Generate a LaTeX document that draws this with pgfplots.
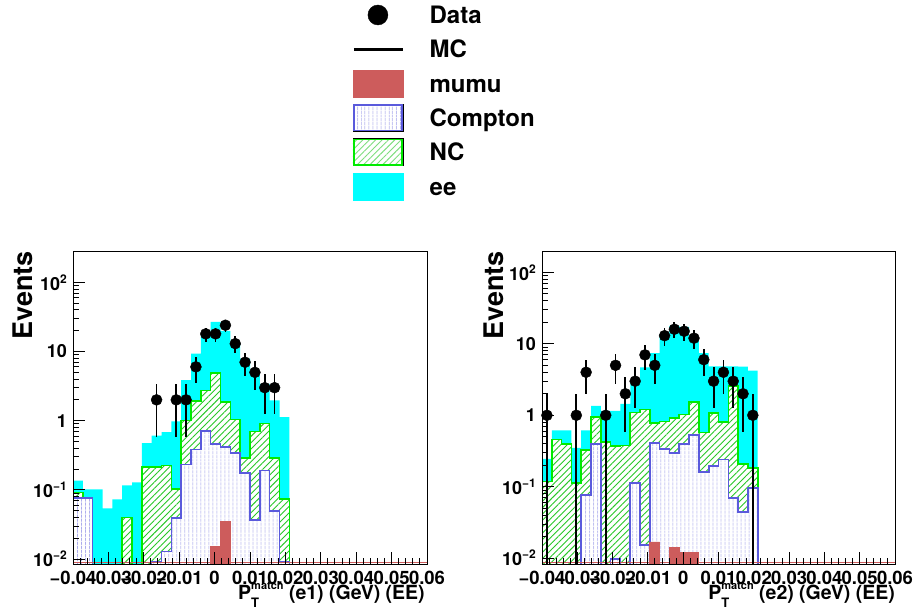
\documentclass[border=0pt]{standalone}
\usepackage{fontspec}
\setmainfont{TeX Gyre Heros}
\usepackage{pgfplots}
\pgfplotsset{compat=1.18}
\usepackage{pgfplotstable}
\usetikzlibrary{patterns.meta}

\definecolor{eecyan}{RGB}{0,255,255}
\definecolor{ncgreen}{RGB}{0,235,0}
\definecolor{nchatch}{RGB}{40,200,40}
\definecolor{comptonblue}{RGB}{90,90,220}
\definecolor{comptonhatch}{RGB}{118,118,225}
\definecolor{mumured}{RGB}{205,92,92}

\newcommand\xtickfont{\fontsize{18.5}{18.5}\selectfont\bfseries}
\newcommand\ytickfont{\fontsize{18}{18}\selectfont\bfseries}
\newcommand\dec[1]{10\raisebox{7pt}{\fontsize{12}{12}\selectfont #1}}

% Stacked MC histograms: cumulative heights at the left edge of each bin
% (bin width 0.1/36); 1e-4 stands for an empty bin, below the axis range.
\pgfplotstableread{
x         ee     nc     comp   mu
-0.04     1e-4   1e-4   1e-4   1e-4
-0.04     0.136  0.092  0.0757 1e-4
-0.037222 0.102  0.0757 0.0757 1e-4
-0.034444 0.102  1e-4   1e-4   1e-4
-0.031667 0.054  1e-4   1e-4   1e-4
-0.028889 0.073  1e-4   1e-4   1e-4
-0.026111 0.116  0.040  1e-4   1e-4
-0.023333 0.128  1e-4   1e-4   1e-4
-0.020556 0.474  0.213  1e-4   1e-4
-0.017778 0.61   0.216  0.0091 1e-4
-0.015    0.685  0.225  0.0129 1e-4
-0.012222 0.977  0.103  0.039  1e-4
-0.009444 3.85   1.01   0.233  1e-4
-0.006667 9.36   1.93   0.385  1e-4
-0.003889 17.8   2.72   0.71   1e-4
-0.001111 26.9   4.91   0.464  0.0151
0.001667  19.9   1.85   0.415  0.0348
0.004444  13.1   1.04   0.34   1e-4
0.007222  7.9    0.288  0.175  1e-4
0.01      5.07   0.70   0.0367 1e-4
0.012778  3.4    0.905  0.19   1e-4
0.015556  1.97   0.288  0.049  1e-4
0.018333  1.13   0.074  0.009  1e-4
0.021111  1e-4   1e-4   1e-4   1e-4
0.06      1e-4   1e-4   1e-4   1e-4
}\stackA

\pgfplotstableread{
x         ee     nc     comp   mu
-0.04     1e-4   1e-4   1e-4   1e-4
-0.04     0.245  0.118  1e-4   1e-4
-0.037222 0.617  0.457  1e-4   1e-4
-0.034444 0.617  0.40   1e-4   1e-4
-0.031667 0.349  0.112  1e-4   1e-4
-0.028889 0.617  0.324  0.077  1e-4
-0.026111 1.35   0.94   0.40   1e-4
-0.023333 1.15   0.42   1e-4   1e-4
-0.020556 1.15   0.37   0.0097 1e-4
-0.017778 1.45   0.38   1e-4   1e-4
-0.015    2.9    1.1    0.112  1e-4
-0.012222 4.69   1.2    0.0152 1e-4
-0.009444 7.44   0.78   0.41   0.0169
-0.006667 13.7   0.82   0.338  1e-4
-0.003889 17.9   0.92   0.297  0.014
-0.001111 17.2   1.02   0.40   0.0119
0.001667  11.4   1.54   0.525  0.0119
0.004444  7.4    0.578  0.161  1e-4
0.007222  4.84   1.08   0.194  1e-4
0.01      4.84   0.80   0.24   1e-4
0.012778  4.84   2.55   0.07   1e-4
0.015556  4.8    0.21   0.044  1e-4
0.018333  4.2    0.184  0.097  1e-4
0.021111  1e-4   1e-4   1e-4   1e-4
0.06      1e-4   1e-4   1e-4   1e-4
}\stackB

% Data: bin centre, events, upper and lower error
\pgfplotstableread{
x         n  ep     em
-0.016389 2  1.4142 1.4142
-0.010833 2  1.4142 1.4142
-0.008056 2  1.4142 1.4142
-0.005278 6  2.4495 2.4495
-0.0025   18 4.2426 4.2426
0.000278  18 4.2426 4.2426
0.003056  24 4.899  4.899
0.005833  13 3.6056 3.6056
0.008611  7  2.6458 2.6458
0.011389  5  2.2361 2.2361
0.014167  3  1.7321 1.7321
0.016944  3  1.7321 1.7321
}\dataA

\pgfplotstableread{
x         n  ep     em
-0.038611 1  1      0.9999
-0.030278 1  1      0.9999
-0.0275   4  2      2
-0.021944 1  1      0.9999
-0.019167 5  2.2361 2.2361
-0.016389 2  1.4142 1.4142
-0.013611 3  1.7321 1.7321
-0.010833 7  2.6458 2.6458
-0.008056 5  2.2361 2.2361
-0.005278 13 3.6056 3.6056
-0.0025   16 4      4
0.000278  15 3.873  3.873
0.003056  12 3.4641 3.4641
0.005833  6  2.4495 2.4495
0.008611  3  1.7321 1.7321
0.011389  4  2      2
0.014167  3  1.7321 1.7321
0.016944  2  1.4142 1.4142
0.019722  1  1      0.9999
}\dataB

\pgfplotsset{
  eehist/.style={const plot, fill=eecyan, draw=none, forget plot},
  nchist/.style={const plot, draw=ncgreen, line width=1.6pt, preaction={fill=white},
    pattern={Lines[angle=45,distance=4.5pt,line width=0.9pt]}, pattern color=nchatch, forget plot},
  comphist/.style={const plot, draw=comptonblue, line width=1.6pt, preaction={fill=white},
    pattern={Lines[angle=90,distance=4pt,line width=0.8pt]}, pattern color=comptonhatch, forget plot},
  muhist/.style={const plot, fill=mumured, draw=mumured, line width=0.8pt, forget plot},
  datapts/.style={only marks, mark=*, mark size=5.5pt, black, forget plot,
    error bars/y dir=both, error bars/y explicit, error bars/error mark=none,
    error bars/error bar style={line width=1.8pt, black}},
}

\newcommand\xtitle[1]{P\rlap{\raisebox{-8.5pt}{\fontsize{13}{13}\selectfont T}}\raisebox{9.5pt}{\fontsize{11}{11}\selectfont match} (#1) (GeV) (EE)}

\begin{document}
\begin{tikzpicture}
% left panel, electron 1
\begin{axis}[
  scale only axis, at={(73pt,47pt)}, anchor=south west, width=354pt, height=313pt,
  xmin=-0.04, xmax=0.06, ymode=log, ymin=0.00847, ymax=284,
  axis on top, scaled x ticks=false,
  tick align=inside, tick pos=left,
  xtick={-0.04,-0.03,-0.02,-0.01,0,0.01,0.02,0.03,0.04,0.05,0.06},
  xticklabels={−0.04,−0.03,−0.02,−0.01,0,0.01,0.02,0.03,0.04,0.05,0.06},
  minor x tick num=4,
  ytick={0.01,0.1,1,10,100},
  yticklabels={\dec{−2},\dec{−1},1,10,\dec{2}},
  yminorticks=true,
  major tick length=12pt, minor tick length=6pt,
  tick style={black, line width=1pt},
  axis line style={line width=1pt},
  xticklabel style={font=\xtickfont, inner sep=0pt, anchor=north, yshift=-6.5pt},
  yticklabel style={font=\ytickfont, inner sep=0pt, anchor=east, xshift=-6pt},
  ylabel={Events},
  ylabel style={at={(rel axis cs:-0.113,1)}, anchor=base east, inner sep=0pt, font=\fontsize{27}{27}\selectfont\bfseries},
  xlabel={\xtitle{e1}},
  xlabel style={at={(rel axis cs:0.994,-0.112)}, anchor=base east, inner sep=0pt, font=\fontsize{19.5}{19.5}\selectfont\bfseries},
  legend cell align=left,
  legend style={at={(0.788,1.809)}, anchor=north west, draw=none, fill=none,
    inner sep=0pt, column sep=25pt, row sep=0.3pt,
    font=\fontsize{24}{24}\selectfont\bfseries,
    nodes={inner sep=0pt, text height=17.2pt, text depth=0pt}},
]
\addlegendimage{legend image code/.code={
  \path[draw=none, fill=none] (0pt,-17pt) rectangle (50pt,17pt);
  \fill[black] (25pt,0pt) circle (10pt);}}
\addlegendentry{Data}
\addlegendimage{legend image code/.code={
  \path[draw=none, fill=none] (0pt,-17pt) rectangle (50pt,17pt);
  \draw[black, line width=3.5pt] (1pt,0pt) -- (50pt,0pt);}}
\addlegendentry{MC}
\addlegendimage{legend image code/.code={
  \path[draw=none, fill=none] (0pt,-17pt) rectangle (50pt,17pt);
  \fill[mumured] (0pt,-13.5pt) rectangle (50pt,13.5pt);}}
\addlegendentry{mumu}
\addlegendimage{legend image code/.code={
  \path[draw=none, fill=none] (0pt,-17pt) rectangle (50pt,17pt);
  \fill[white] (0pt,-13.5pt) rectangle (50pt,13.5pt);
  \fill[pattern={Lines[angle=90,distance=4pt,line width=0.8pt]}, pattern color=comptonhatch] (0pt,-13.5pt) rectangle (50pt,13.5pt);
  \draw[comptonblue, line width=1.6pt] (0.8pt,-12.7pt) rectangle (49.2pt,12.7pt);}}
\addlegendentry{Compton}
\addlegendimage{legend image code/.code={
  \path[draw=none, fill=none] (0pt,-17pt) rectangle (50pt,17pt);
  \fill[white] (0pt,-13.5pt) rectangle (50pt,13.5pt);
  \fill[pattern={Lines[angle=45,distance=4.5pt,line width=0.9pt]}, pattern color=nchatch!60!white] (0pt,-13.5pt) rectangle (50pt,13.5pt);
  \draw[ncgreen, line width=1.6pt] (0.8pt,-12.7pt) rectangle (49.2pt,12.7pt);}}
\addlegendentry{NC}
\addlegendimage{legend image code/.code={
  \path[draw=none, fill=none] (0pt,-17pt) rectangle (50pt,17pt);
  \fill[eecyan] (0pt,-13.5pt) rectangle (50pt,13.5pt);}}
\addlegendentry{ee}

\addplot[eehist] table[x=x, y=ee] {\stackA};
\addplot[nchist] table[x=x, y=nc] {\stackA};
\addplot[comphist] table[x=x, y=comp] {\stackA};
\addplot[muhist] table[x=x, y=mu] {\stackA};
\addplot[mumured, line width=1.4pt, forget plot] coordinates {(-0.04,0.00885) (0.06,0.00885)};
\addplot[datapts] table[x=x, y=n, y error plus=ep, y error minus=em] {\dataA};
\end{axis}

% right panel, electron 2
\begin{axis}[
  scale only axis, at={(542pt,47pt)}, anchor=south west, width=353pt, height=313pt,
  xmin=-0.04, xmax=0.06, ymode=log, ymin=0.0083, ymax=199,
  axis on top, scaled x ticks=false,
  tick align=inside, tick pos=left,
  xtick={-0.04,-0.03,-0.02,-0.01,0,0.01,0.02,0.03,0.04,0.05,0.06},
  xticklabels={−0.04,−0.03,−0.02,−0.01,0,0.01,0.02,0.03,0.04,0.05,0.06},
  minor x tick num=4,
  ytick={0.01,0.1,1,10,100},
  yticklabels={\dec{−2},\dec{−1},1,10,\dec{2}},
  yminorticks=true,
  major tick length=12pt, minor tick length=6pt,
  tick style={black, line width=1pt},
  axis line style={line width=1pt},
  xticklabel style={font=\xtickfont, inner sep=0pt, anchor=north, yshift=-6.5pt},
  yticklabel style={font=\ytickfont, inner sep=0pt, anchor=east, xshift=-6pt},
  ylabel={Events},
  ylabel style={at={(rel axis cs:-0.110,1)}, anchor=base east, inner sep=0pt, font=\fontsize{27}{27}\selectfont\bfseries},
  xlabel={\xtitle{e2}},
  xlabel style={at={(rel axis cs:1.0,-0.112)}, anchor=base east, inner sep=0pt, font=\fontsize{19.5}{19.5}\selectfont\bfseries},
]
\addplot[eehist] table[x=x, y=ee] {\stackB};
\addplot[nchist] table[x=x, y=nc] {\stackB};
\addplot[comphist] table[x=x, y=comp] {\stackB};
\addplot[muhist] table[x=x, y=mu] {\stackB};
\addplot[mumured, line width=1.4pt, forget plot] coordinates {(-0.04,0.0087) (0.06,0.0087)};
\addplot[datapts] table[x=x, y=n, y error plus=ep, y error minus=em] {\dataB};
\end{axis}

\pgfresetboundingbox
\path[use as bounding box] (0pt,0pt) rectangle (915pt,611pt);
\end{tikzpicture}
\end{document}
